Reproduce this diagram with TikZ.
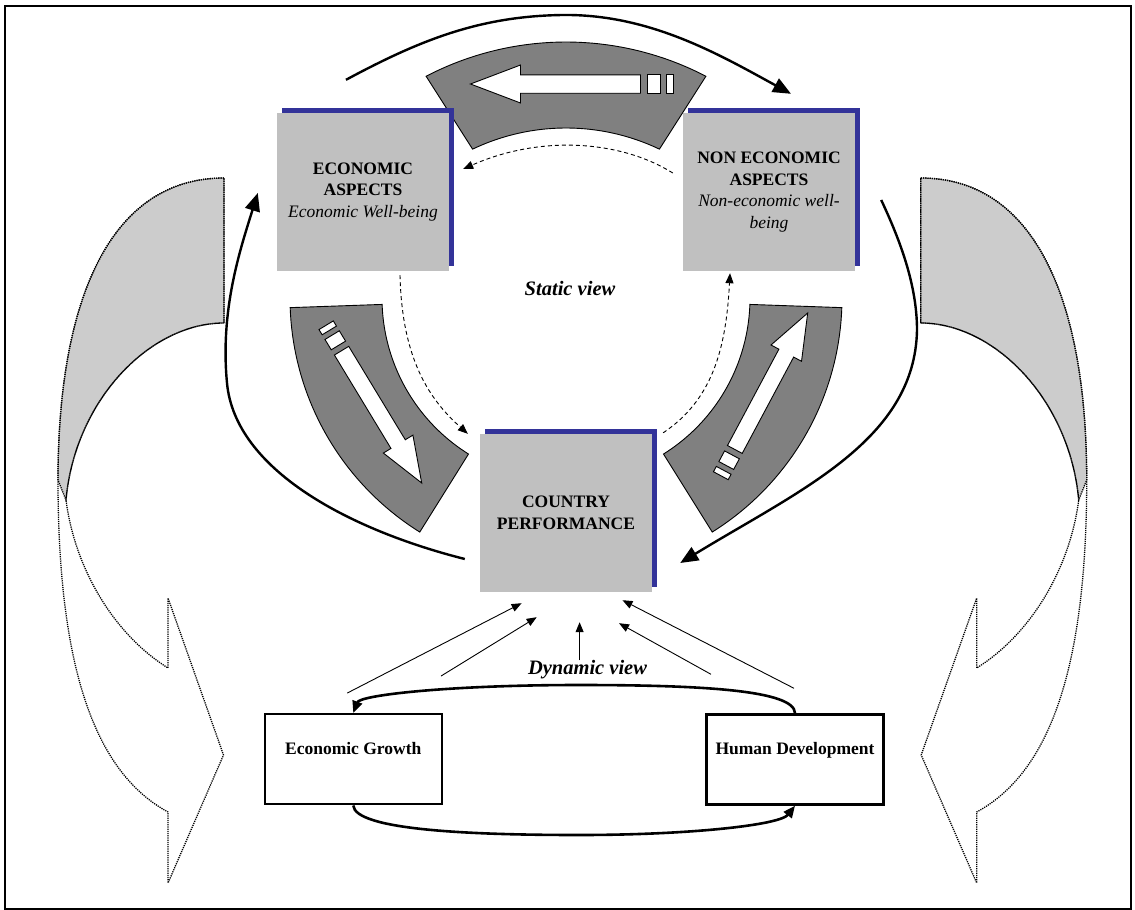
\documentclass[tikz,border=0pt]{standalone}
\usepackage{fontspec}
\setmainfont{Liberation Serif}
\usetikzlibrary{arrows.meta,calc,shadows}
\definecolor{boxgray}{HTML}{C0C0C0}
\definecolor{bandgray}{HTML}{808080}
\definecolor{backgray}{HTML}{CCCCCC}
\definecolor{shadowblue}{HTML}{333399}

\tikzset{
  bandarrow/.pic={
    \draw[whitearrow] (0,0) -- (50,-19) -- (50,-9.2) -- (170,-9.2) -- (170,9.2) -- (50,9.2) -- (50,19) -- cycle;
    \draw[whitearrow] (176.7,-9.2) rectangle (190,9.2);
    \draw[whitearrow] (196,-9.2) rectangle (202.7,9.2);
  }
}

% curved 3d arrow at the left side, mirrored for the right side
\newcommand{\sidearrow}{%
  \filldraw[backarrow,fill=backgray] (224,178) .. controls (110,178) and (58,300) .. (58,480)
    -- (66,500) .. controls (75,400) and (150,323) .. (224,323) -- cycle;
  \draw[backarrow] (224,323) -- (224,178) .. controls (110,178) and (58,300) .. (58,480)
    .. controls (58,680) and (100,775) .. (168,812) -- (168,883) -- (223.5,755) -- (168,598)
    -- (168,668) .. controls (115,635) and (75,570) .. (66,500)
    .. controls (75,400) and (150,323) .. (224,323);
}

\begin{document}
\begin{tikzpicture}[x=1pt,y=-1pt,
    aspectbox/.style={fill=boxgray, minimum width=172pt, minimum height=158pt, inner sep=0pt,
      align=center, font=\fontsize{17.5}{21.6}\selectfont,
      general shadow={fill=shadowblue, shadow xshift=5pt, shadow yshift=5pt}},
    growthbox/.style={draw, line width=2.4pt, minimum width=177pt, minimum height=90pt,
      inner sep=0pt, align=center, font=\fontsize{17.5}{21.6}\selectfont\bfseries},
    viewlabel/.style={font=\fontsize{20.5}{24}\selectfont\bfseries\itshape, inner sep=0pt},
    bandshape/.style={fill=bandgray, draw=black, line width=0.9pt},
    whitearrow/.style={fill=white, draw=black, line width=0.9pt},
    backarrow/.style={draw=black, line width=1.3pt, dash pattern=on 1.2pt off 1pt},
    bigarrow/.style={line width=2.4pt, -{Triangle[length=18pt,width=15pt]}},
    loopline/.style={line width=2.6pt, -{Triangle[length=12pt,width=10pt]}},
    thinarrow/.style={line width=0.9pt, -{Triangle[length=10pt,width=8pt]}},
    dasharrow/.style={line width=0.9pt, dash pattern=on 4pt off 3pt, -{Triangle[length=10pt,width=8pt]}}]
  \useasboundingbox (0,0) rectangle (1135,910);
  \draw[line width=2pt] (5,5.5) rectangle (1131,908.5);

  % side arrows
  \sidearrow
  \begin{scope}[xshift=1144.7pt,xscale=-1]
    \sidearrow
  \end{scope}

  % bands round the static view
  \draw[bandshape] plot[domain=242.5:297.5,samples=40] ({566+303*cos(\x)},{345+303*sin(\x)})
    -- plot[domain=295.5:244.5,samples=40] ({566+217*cos(\x)},{345+217*sin(\x)}) -- cycle;
  \draw[bandshape] plot[domain=178:122,samples=40] ({566+276*cos(\x)},{298+276*sin(\x)})
    -- plot[domain=122:178,samples=40] ({566+184*cos(\x)},{298+184*sin(\x)}) -- cycle;
  \draw[bandshape] plot[domain=2:58,samples=40] ({566+276*cos(\x)},{298+276*sin(\x)})
    -- plot[domain=58:2,samples=40] ({566+184*cos(\x)},{298+184*sin(\x)}) -- cycle;
  \pic at (470.5,84) {bandarrow};
  \pic[rotate=121.2,scale=0.91] at (421.7,483) {bandarrow};
  \pic[rotate=241.9,scale=0.91] at (807.7,313) {bandarrow};

  % boxes
  \node[aspectbox] (econ) at (363,192) {\textbf{ECONOMIC}\\\textbf{ASPECTS}\\\textit{Economic Well-being}};
  \node[aspectbox] (nonecon) at (769,192) {\textbf{NON ECONOMIC}\\\textbf{ASPECTS}\\\textit{Non-economic well-}\\\textit{being}};
  \node[aspectbox] (country) at (566,513) {\textbf{COUNTRY}\\\textbf{PERFORMANCE}};
  \node[growthbox] (growth) at (353.25,759.25) {Economic Growth\\\mbox{}};
  \node[growthbox] (human) at (795,759.5) {Human Development\\\mbox{}};
  \node[viewlabel] (static) at (570,288) {Static view};
  \node[viewlabel] (dynamic) at (587.5,670) {Dynamic view};

  % static view
  \draw[bigarrow] ($(econ.north)+(-17,-33)$) .. controls (420,40) and (480,16) .. (563,15)
    .. controls (650,14) and (720,55) .. ($(nonecon.north)+(22,-19)$);
  \draw[bigarrow] ($(country.west)+(-15,46)$) .. controls (350,530) and (235,470) .. (227,383)
    .. controls (220,310) and (240,250) .. ($(econ.west)+(-19,1)$);
  \draw[bigarrow] ($(nonecon.east)+(26,8)$) .. controls (900,240) and (917,285) .. (917,330)
    .. controls (915,440) and (800,490) .. ($(country.east)+(28,50)$);
  \draw[dasharrow] ($(nonecon.west)+(-10,-19)$) .. controls (620,140) and (540,135) .. ($(econ.east)+(14,-23)$);
  \draw[dasharrow] ($(econ.south)+(37,4)$) .. controls (402,360) and (430,400) .. ($(country.north west)+(-12,0)$);
  \draw[dasharrow] ($(country.north east)+(11,-1)$) .. controls (712,400) and (726,350) .. ($(nonecon.south)+(-39,2)$);

  % dynamic view
  \draw[loopline] (human.north) .. controls (795,690) and (700,685) .. (579,685)
    .. controls (450,685) and (360,695) .. (growth.north);
  \draw[loopline] (growth.south) .. controls (355,830) and (470,835) .. (579,835)
    .. controls (690,835) and (780,825) .. (human.south);
  \draw[thinarrow] ($(growth.north)+(-6,-20)$) -- ($(country.south)+(-44.4,11)$);
  \draw[thinarrow] ($(growth.north)+(87.75,-37)$) -- ($(country.south)+(-29.3,25)$);
  \draw[thinarrow] ([xshift=-7.9pt]dynamic.north) -- ($(country.south)+(13.6,30)$);
  \draw[thinarrow] ($(human.north)+(-84,-39)$) -- ($(country.south)+(53,31)$);
  \draw[thinarrow] ($(human.north)+(-1,-25)$) -- ($(country.south)+(56.5,8)$);
\end{tikzpicture}
\end{document}
